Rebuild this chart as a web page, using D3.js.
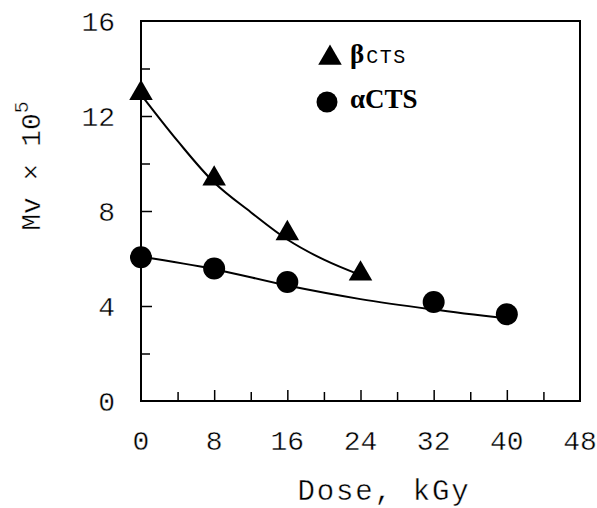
<!DOCTYPE html>
<html><head><meta charset="utf-8">
<script src="https://cdn.jsdelivr.net/npm/d3@7"></script>
<style>body{margin:0;background:#fff} .thin{stroke:#fff;stroke-width:0.4px;paint-order:fill}</style>
</head><body>
<svg id="c" width="597" height="508"></svg>
<script>
// Data
const doseBeta = [0, 8, 16, 24];
const mvBeta = [13.0, 9.4, 7.1, 5.4];
const doseAlpha = [0, 8, 16, 32, 40];
const mvAlpha = [6.05, 5.58, 5.01, 4.17, 3.65];
// fitted trend curves as drawn in the reference
const fitBetaDose = [0, 4, 8, 12, 16, 20, 24];
const fitBetaMv = [12.9, 10.95, 9.2, 7.95, 6.8, 5.95, 5.3];
const fitAlphaDose = [0, 8, 16, 24, 32, 40];
const fitAlphaMv = [6.07, 5.55, 4.86, 4.29, 3.85, 3.47];
const xTicks = [0, 8, 16, 24, 32, 40, 48];
const xMinor = [4, 12, 20, 28, 36, 44];
const yTicks = [0, 4, 8, 12, 16];
const yMinor = [2, 6, 10, 14];

const svg = d3.select("#c");
const L = 141, R = 580, T = 21, B = 401;
const x = d3.scaleLinear().domain([0, 48]).range([L, R]);
const y = d3.scaleLinear().domain([0, 16]).range([B, T]);
const mono = "'Liberation Mono', 'Courier New', monospace";
const serif = "'Liberation Serif', 'Times New Roman', serif";

// frame
svg.append("rect").attr("x", L).attr("y", T).attr("width", R - L).attr("height", B - T)
  .attr("fill", "none").attr("stroke", "#000").attr("stroke-width", 2);

// x axis ticks (inward)
const gx = svg.append("g").attr("transform", `translate(0,${B})`);
gx.call(d3.axisBottom(x).tickValues(xTicks.slice(1, -1)).tickSize(-11).tickFormat(""))
  .call(g => g.select(".domain").remove());
gx.append("g").call(d3.axisBottom(x).tickValues(xMinor).tickSize(-9).tickFormat(""))
  .call(g => g.select(".domain").remove());
gx.selectAll("line").attr("stroke", "#000").attr("stroke-width", 1.5);
svg.append("g").selectAll("text").data(xTicks).join("text").attr("class", "thin")
  .attr("x", d => x(d)).attr("y", 450).attr("text-anchor", "middle")
  .attr("font-family", mono).attr("font-size", 28).attr("fill", "#000").text(d => d);

// y axis ticks (inward)
const gy = svg.append("g").attr("transform", `translate(${L},0)`);
gy.call(d3.axisLeft(y).tickValues(yTicks.slice(1, -1)).tickSize(-11).tickFormat(""))
  .call(g => g.select(".domain").remove());
gy.append("g").call(d3.axisLeft(y).tickValues(yMinor).tickSize(-9).tickFormat(""))
  .call(g => g.select(".domain").remove());
gy.selectAll("line").attr("stroke", "#000").attr("stroke-width", 1.5);
svg.append("g").selectAll("text").data(yTicks).join("text").attr("class", "thin")
  .attr("x", 115).attr("y", d => y(d)).attr("dy", "0.35em").attr("text-anchor", "end")
  .attr("font-family", mono).attr("font-size", 28).attr("fill", "#000").text(d => d);

// axis titles
svg.append("text").attr("class", "thin").attr("x", 384).attr("y", 500).attr("text-anchor", "middle")
  .attr("font-family", mono).attr("font-size", 29).attr("letter-spacing", 1.8)
  .attr("fill", "#000").text("Dose, kGy");
const yt = svg.append("text").attr("class", "thin").attr("transform", "translate(40,166) rotate(-90)")
  .attr("text-anchor", "middle").attr("font-family", mono).attr("font-size", 28).attr("fill", "#000");
yt.append("tspan").text("Mv × 10");
yt.append("tspan").attr("dy", -12).attr("font-size", 20).text("5");

// fit curves
const line = d3.line().x(d => x(d[0])).y(d => y(d[1])).curve(d3.curveCatmullRom);
svg.append("path").datum(d3.zip(fitBetaDose, fitBetaMv)).attr("d", line)
  .attr("fill", "none").attr("stroke", "#000").attr("stroke-width", 2);
svg.append("path").datum(d3.zip(fitAlphaDose, fitAlphaMv)).attr("d", line)
  .attr("fill", "none").attr("stroke", "#000").attr("stroke-width", 2);

// markers
const tri = d3.symbol().type(d3.symbolTriangle).size(240);
svg.append("g").selectAll("path").data(d3.zip(doseBeta, mvBeta)).join("path")
  .attr("d", tri).attr("transform", d => `translate(${x(d[0])},${y(d[1]) + 1})`).attr("fill", "#000");
svg.append("g").selectAll("circle").data(d3.zip(doseAlpha, mvAlpha)).join("circle")
  .attr("cx", d => x(d[0])).attr("cy", d => y(d[1])).attr("r", 11).attr("fill", "#000");

// legend
svg.append("path").attr("d", tri).attr("transform", "translate(330,58)").attr("fill", "#000");
const lt1 = svg.append("text").attr("x", 350).attr("y", 63).attr("fill", "#000");
lt1.append("tspan").attr("font-family", serif).attr("font-weight", "bold").attr("font-size", 27).text("β");
lt1.append("tspan").attr("font-family", mono).attr("font-size", 20)
  .attr("letter-spacing", 1.5).attr("dx", 2).text("CTS");
svg.append("circle").attr("cx", 327).attr("cy", 102).attr("r", 10.5).attr("fill", "#000");
svg.append("text").attr("x", 350).attr("y", 108).attr("font-family", serif).attr("font-weight", "bold")
  .attr("font-size", 27).attr("fill", "#000").text("αCTS");
</script>
</body></html>
